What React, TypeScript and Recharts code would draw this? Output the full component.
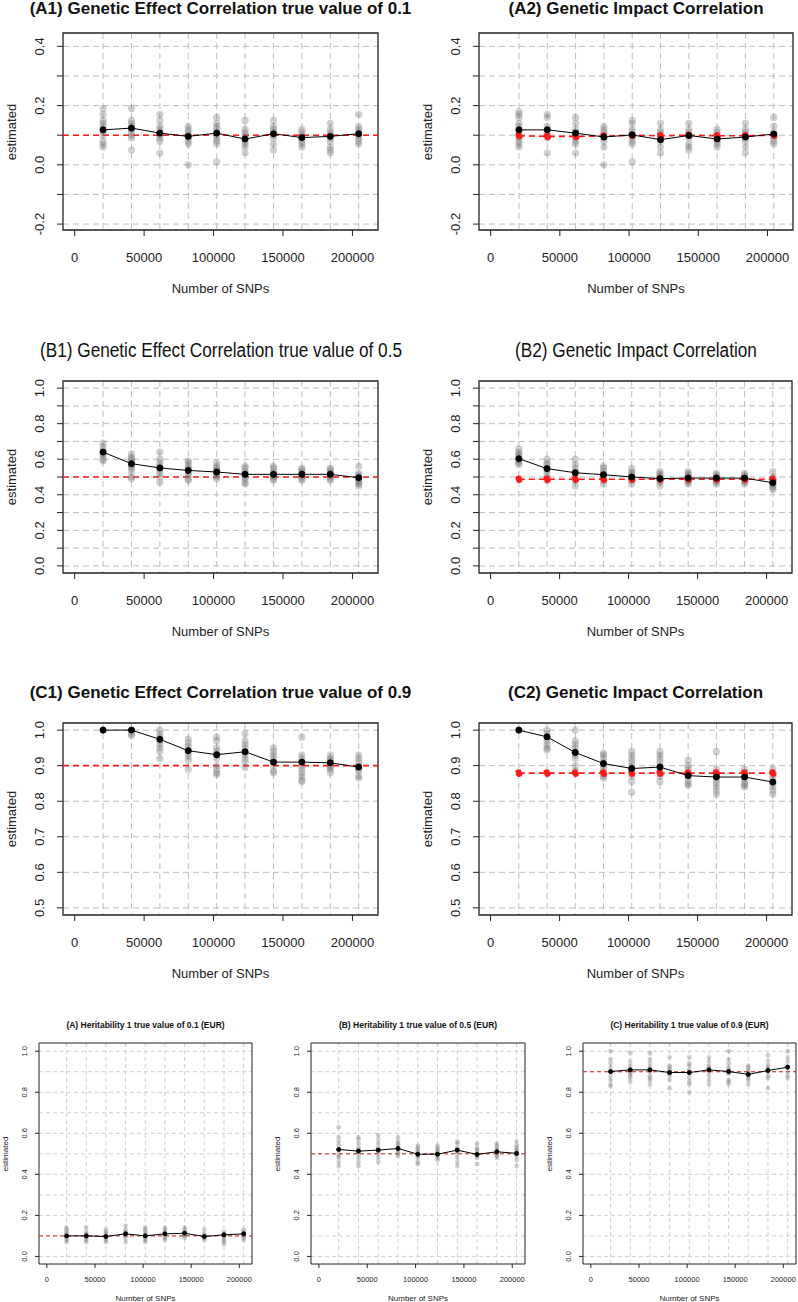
import React from 'react';
import { ComposedChart, Scatter, Line, XAxis, YAxis, CartesianGrid, ReferenceLine, ReferenceArea } from 'recharts';

// number of SNPs used in each simulation step
const snps = [20450, 40900, 61350, 81800, 102250, 122700, 143150, 163600, 184050, 204500];
const xTicks = [0, 50000, 100000, 150000, 200000];

// y ticks / labels / grid
const yTicksA = [-0.2, -0.1, 0, 0.1, 0.2, 0.3, 0.4];
const yLabelsA = [-0.2, 0, 0.2, 0.4];
const yTicksB = [0, 0.1, 0.2, 0.3, 0.4, 0.5, 0.6, 0.7, 0.8, 0.9, 1.0];
const yLabelsB = [0, 0.2, 0.4, 0.6, 0.8, 1.0];
const yTicksC = [0.5, 0.6, 0.7, 0.8, 0.9, 1.0];
const yTicksH = [0, 0.2, 0.4, 0.6, 0.8, 1.0];

// (A1) genetic effect correlation, true 0.1
const a1Reps = [
  [0.19, 0.17, 0.15, 0.14, 0.13, 0.12, 0.11, 0.1, 0.08, 0.07, 0.06],
  [0.19, 0.15, 0.14, 0.13, 0.12, 0.11, 0.1, 0.09, 0.05],
  [0.17, 0.15, 0.13, 0.12, 0.11, 0.1, 0.09, 0.08, 0.04],
  [0.13, 0.12, 0.11, 0.1, 0.09, 0.08, 0.07, 0.0],
  [0.16, 0.14, 0.13, 0.12, 0.11, 0.1, 0.09, 0.08, 0.07, 0.01],
  [0.15, 0.12, 0.11, 0.1, 0.09, 0.08, 0.07, 0.06, 0.04],
  [0.15, 0.13, 0.12, 0.11, 0.1, 0.09, 0.07, 0.05],
  [0.12, 0.11, 0.1, 0.09, 0.08, 0.07, 0.06],
  [0.14, 0.12, 0.11, 0.1, 0.09, 0.08, 0.06, 0.05, 0.04],
  [0.17, 0.13, 0.12, 0.11, 0.1, 0.09, 0.08, 0.07],
];
const a1Mean = [0.118, 0.124, 0.107, 0.096, 0.107, 0.087, 0.105, 0.092, 0.096, 0.105];

// (A2) genetic impact correlation
const a2Reps = [
  [0.18, 0.17, 0.16, 0.14, 0.13, 0.12, 0.11, 0.1, 0.09, 0.08, 0.07, 0.06],
  [0.17, 0.16, 0.13, 0.12, 0.11, 0.1, 0.09, 0.04],
  [0.16, 0.14, 0.12, 0.11, 0.1, 0.09, 0.08, 0.07, 0.04],
  [0.13, 0.12, 0.11, 0.1, 0.09, 0.08, 0.06, 0.0],
  [0.15, 0.14, 0.12, 0.11, 0.1, 0.09, 0.08, 0.07, 0.01],
  [0.14, 0.12, 0.11, 0.1, 0.09, 0.08, 0.06, 0.04],
  [0.14, 0.12, 0.11, 0.1, 0.09, 0.07, 0.06, 0.05],
  [0.12, 0.11, 0.1, 0.09, 0.08, 0.07, 0.06],
  [0.14, 0.12, 0.11, 0.1, 0.09, 0.08, 0.06, 0.04],
  [0.16, 0.13, 0.11, 0.1, 0.09, 0.08, 0.07],
];
const a2Mean = [0.118, 0.118, 0.107, 0.094, 0.101, 0.085, 0.099, 0.087, 0.094, 0.104];
const a2True = [0.098, 0.096, 0.096, 0.097, 0.1, 0.098, 0.1, 0.098, 0.098, 0.1];

// (B1) genetic effect correlation, true 0.5
const b1Reps = [
  [0.69, 0.67, 0.65, 0.63, 0.62, 0.6, 0.59],
  [0.63, 0.61, 0.6, 0.59, 0.57, 0.56, 0.55, 0.53, 0.5, 0.49],
  [0.64, 0.6, 0.58, 0.56, 0.55, 0.54, 0.52, 0.5, 0.47],
  [0.59, 0.58, 0.56, 0.55, 0.54, 0.52, 0.51, 0.49, 0.48],
  [0.58, 0.56, 0.55, 0.54, 0.53, 0.52, 0.51, 0.5, 0.49],
  [0.56, 0.55, 0.53, 0.52, 0.51, 0.5, 0.49, 0.47, 0.46],
  [0.56, 0.55, 0.53, 0.52, 0.51, 0.5, 0.49, 0.48],
  [0.55, 0.54, 0.53, 0.52, 0.51, 0.5, 0.49, 0.48],
  [0.55, 0.54, 0.53, 0.52, 0.51, 0.5, 0.49, 0.48],
  [0.56, 0.52, 0.51, 0.5, 0.49, 0.48, 0.47, 0.46, 0.45],
];
const b1Mean = [0.64, 0.575, 0.551, 0.537, 0.528, 0.515, 0.515, 0.515, 0.515, 0.496];

// (B2) genetic impact correlation
const b2Reps = [
  [0.66, 0.64, 0.63, 0.62, 0.6, 0.59, 0.58, 0.57],
  [0.6, 0.58, 0.57, 0.55, 0.54, 0.52, 0.5, 0.48],
  [0.6, 0.57, 0.55, 0.53, 0.52, 0.5, 0.48, 0.45],
  [0.56, 0.55, 0.53, 0.52, 0.51, 0.5, 0.48, 0.46],
  [0.55, 0.53, 0.52, 0.51, 0.5, 0.49, 0.48, 0.46],
  [0.53, 0.52, 0.51, 0.5, 0.49, 0.48, 0.47, 0.45],
  [0.53, 0.52, 0.51, 0.5, 0.49, 0.48, 0.47, 0.46],
  [0.52, 0.51, 0.5, 0.49, 0.48, 0.47, 0.46],
  [0.52, 0.51, 0.5, 0.49, 0.48, 0.47, 0.46],
  [0.53, 0.5, 0.49, 0.48, 0.47, 0.46, 0.45, 0.44, 0.43],
];
const b2Mean = [0.603, 0.547, 0.524, 0.513, 0.5, 0.491, 0.494, 0.494, 0.494, 0.468];
const b2True = [0.487, 0.487, 0.487, 0.487, 0.487, 0.487, 0.487, 0.487, 0.487, 0.487];

// (C1) genetic effect correlation, true 0.9
const c1Reps = [
  [1.0],
  [1.0, 0.99, 0.985],
  [1.0, 0.99, 0.98, 0.97, 0.96, 0.95, 0.94, 0.92],
  [0.975, 0.965, 0.955, 0.945, 0.935, 0.925, 0.915, 0.89],
  [0.98, 0.97, 0.95, 0.94, 0.93, 0.92, 0.9, 0.89, 0.88, 0.875],
  [0.99, 0.97, 0.96, 0.95, 0.94, 0.93, 0.92, 0.91, 0.895],
  [0.95, 0.94, 0.93, 0.92, 0.91, 0.9, 0.885, 0.88],
  [0.98, 0.93, 0.92, 0.91, 0.9, 0.89, 0.88, 0.87, 0.86, 0.855],
  [0.93, 0.92, 0.915, 0.91, 0.9, 0.895, 0.89, 0.88],
  [0.93, 0.92, 0.91, 0.9, 0.89, 0.885, 0.87, 0.865],
];
const c1Mean = [1.0, 1.0, 0.974, 0.942, 0.931, 0.939, 0.91, 0.91, 0.908, 0.896];

// (C2) genetic impact correlation
const c2Reps = [
  [1.0],
  [1.0, 0.99, 0.98, 0.97, 0.96, 0.95, 0.945],
  [1.0, 0.97, 0.96, 0.95, 0.94, 0.93, 0.92, 0.9, 0.885],
  [0.935, 0.93, 0.92, 0.91, 0.9, 0.89, 0.88, 0.87, 0.865],
  [0.94, 0.93, 0.92, 0.91, 0.9, 0.89, 0.88, 0.87, 0.855, 0.825],
  [0.94, 0.93, 0.92, 0.91, 0.9, 0.89, 0.88, 0.87, 0.855],
  [0.915, 0.9, 0.89, 0.88, 0.87, 0.86, 0.85, 0.845],
  [0.94, 0.89, 0.88, 0.87, 0.86, 0.85, 0.84, 0.83, 0.82],
  [0.89, 0.88, 0.87, 0.86, 0.85, 0.845, 0.84],
  [0.89, 0.88, 0.87, 0.86, 0.85, 0.84, 0.83, 0.82],
];
const c2Mean = [1.0, 0.981, 0.937, 0.906, 0.892, 0.896, 0.872, 0.868, 0.868, 0.854];
const c2True = [0.879, 0.879, 0.879, 0.879, 0.879, 0.879, 0.879, 0.879, 0.879, 0.879];

// heritability 1 (EUR), true 0.1 / 0.5 / 0.9
const h1Reps = [
  [0.14, 0.13, 0.12, 0.11, 0.1, 0.09, 0.08, 0.07],
  [0.14, 0.12, 0.11, 0.1, 0.09, 0.08, 0.07],
  [0.13, 0.12, 0.11, 0.1, 0.09, 0.08, 0.07],
  [0.15, 0.13, 0.12, 0.11, 0.1, 0.09, 0.07],
  [0.14, 0.13, 0.12, 0.11, 0.1, 0.09, 0.08, 0.07],
  [0.14, 0.13, 0.12, 0.11, 0.1, 0.09, 0.08],
  [0.14, 0.13, 0.12, 0.11, 0.1, 0.09],
  [0.13, 0.11, 0.1, 0.09, 0.08],
  [0.12, 0.11, 0.1, 0.09, 0.08, 0.07, 0.06],
  [0.13, 0.12, 0.11, 0.1, 0.09, 0.08],
];
const h1Mean = [0.1, 0.1, 0.097, 0.11, 0.1, 0.11, 0.113, 0.097, 0.105, 0.11];

const h5Reps = [
  [0.63, 0.58, 0.56, 0.54, 0.52, 0.5, 0.49, 0.48, 0.46, 0.44],
  [0.58, 0.57, 0.55, 0.53, 0.52, 0.51, 0.5, 0.48, 0.46, 0.44],
  [0.59, 0.57, 0.55, 0.53, 0.52, 0.51, 0.5, 0.48, 0.46],
  [0.58, 0.56, 0.55, 0.54, 0.53, 0.52, 0.51, 0.5, 0.49],
  [0.54, 0.53, 0.52, 0.51, 0.5, 0.49, 0.48, 0.46, 0.45],
  [0.54, 0.53, 0.52, 0.51, 0.5, 0.49, 0.48, 0.47],
  [0.56, 0.55, 0.53, 0.52, 0.51, 0.5, 0.48, 0.46, 0.44],
  [0.55, 0.53, 0.52, 0.51, 0.5, 0.49, 0.48, 0.45],
  [0.55, 0.54, 0.53, 0.52, 0.51, 0.5, 0.49, 0.48],
  [0.56, 0.54, 0.53, 0.52, 0.51, 0.5, 0.49, 0.47, 0.44],
];
const h5Mean = [0.521, 0.513, 0.518, 0.526, 0.498, 0.498, 0.518, 0.497, 0.51, 0.502];

const h9Reps = [
  [1.0, 0.96, 0.94, 0.92, 0.9, 0.88, 0.86, 0.84, 0.83],
  [0.99, 0.95, 0.93, 0.91, 0.9, 0.89, 0.88, 0.87, 0.85],
  [0.99, 0.96, 0.94, 0.92, 0.91, 0.9, 0.88, 0.87, 0.86, 0.84],
  [0.97, 0.93, 0.92, 0.91, 0.9, 0.89, 0.88, 0.86, 0.82],
  [0.97, 0.94, 0.93, 0.91, 0.9, 0.89, 0.87, 0.85, 0.84, 0.8],
  [0.97, 0.95, 0.93, 0.92, 0.91, 0.9, 0.88, 0.86, 0.84],
  [1.0, 0.96, 0.94, 0.92, 0.91, 0.9, 0.89, 0.86, 0.85, 0.84],
  [0.93, 0.92, 0.91, 0.9, 0.89, 0.88, 0.87, 0.86, 0.84],
  [0.98, 0.95, 0.93, 0.92, 0.91, 0.9, 0.88, 0.87, 0.82],
  [1.0, 0.97, 0.95, 0.93, 0.92, 0.9, 0.88, 0.87],
];
const h9Mean = [0.901, 0.909, 0.909, 0.896, 0.896, 0.909, 0.901, 0.887, 0.906, 0.922];

const FONT = '"Liberation Sans", Arial, sans-serif';

type Box = { l: number; t: number; r: number; b: number };

const XTick = (props: any) => {
  const { x, y, payload, dy, fs } = props;
  return (
    <text x={x} y={y + dy} textAnchor="middle" dominantBaseline="central" fontSize={fs} fill="#222" fontFamily={FONT}>
      {payload.value}
    </text>
  );
};

const YTick = (props: any) => {
  const { x, y, payload, dx, fs, labels } = props;
  const v = payload.value as number;
  if (!labels.some((l: number) => Math.abs(l - v) < 1e-6)) return null;
  const cx = x - dx;
  return (
    <text x={cx} y={y} transform={`rotate(-90, ${cx}, ${y})`} textAnchor="middle" dominantBaseline="central" fontSize={fs} fill="#222" fontFamily={FONT}>
      {v.toFixed(1)}
    </text>
  );
};

type PanelProps = {
  box: Box;
  small?: boolean;
  title: string;
  titleY: number;
  titleStyle: React.CSSProperties;
  xDomain: [number, number];
  yDomain: [number, number];
  yTicks: number[];
  yLabels: number[];
  yGrid: number[];
  reps: number[][];
  means: number[];
  truth?: number;
  red?: number[];
};

const Panel = (p: PanelProps) => {
  const { box, small } = p;
  const w = box.r - box.l;
  const h = box.b - box.t;
  const padL = 60, padT = 6, padR = 2, padB = 45;
  const pts = p.reps.flatMap((vals, i) => vals.map((v) => ({ x: snps[i], y: v })));
  const meanPts = p.means.map((v, i) => ({ x: snps[i], y: v }));
  const redPts = p.red ? p.red.map((v, i) => ({ x: snps[i], y: v })) : [];
  const fs = small ? 7.5 : 13;
  const tickSize = small ? 4 : 6;
  const dotR = small ? 2.4 : 3.6;
  const gridColor = small ? '#cfcfcf' : '#bdbdbd';
  const dash = small ? '4 3' : '6 4';
  const labFs = small ? 8 : 13;
  return (
    <>
      <div style={{ position: 'absolute', left: (box.l + box.r) / 2, top: p.titleY, transform: 'translate(-50%, -50%)', whiteSpace: 'nowrap', color: '#111', ...p.titleStyle }}>
        {p.title}
      </div>
      <div style={{ position: 'absolute', left: box.l - padL, top: box.t - padT }}>
        <ComposedChart width={w + padL + padR} height={h + padT + padB} margin={{ top: padT, right: padR, left: 0, bottom: 0 }}>
          <CartesianGrid horizontalValues={p.yGrid} verticalValues={snps} stroke={gridColor} strokeDasharray={dash} strokeWidth={1} />
          <XAxis
            type="number"
            dataKey="x"
            domain={p.xDomain}
            ticks={xTicks}
            interval={0}
            allowDataOverflow
            axisLine={false}
            tickSize={tickSize}
            tickMargin={0}
            tickLine={{ stroke: '#222' }}
            tick={<XTick dy={small ? 11 : 21} fs={fs} />}
            height={padB}
          />
          <YAxis
            type="number"
            dataKey="y"
            domain={p.yDomain}
            ticks={p.yTicks}
            interval={0}
            allowDataOverflow
            axisLine={false}
            tickSize={tickSize}
            tickMargin={0}
            tickLine={{ stroke: '#222' }}
            tick={<YTick dx={small ? 10 : 17.5} fs={fs} labels={p.yLabels} />}
            width={padL}
          />
          {p.truth !== undefined && (
            <ReferenceLine y={p.truth} stroke={small ? '#d42a2a' : '#ff1a1a'} strokeWidth={small ? 1 : 1.6} strokeDasharray={dash} />
          )}
          <Scatter
            data={pts}
            isAnimationActive={false}
            shape={(s: any) => <circle cx={s.cx} cy={s.cy} r={dotR} fill="#6e6e6e" fillOpacity={0.32} />}
          />
          {p.red && (
            <Line
              data={redPts}
              dataKey="y"
              stroke="#ff1a1a"
              strokeWidth={1.6}
              strokeDasharray={dash}
              dot={{ r: dotR - 0.6, fill: '#ff1a1a', stroke: '#ff1a1a' }}
              isAnimationActive={false}
            />
          )}
          <Line
            data={meanPts}
            dataKey="y"
            stroke="#000"
            strokeWidth={1}
            dot={{ r: small ? 2 : 3, fill: '#000', stroke: '#000', strokeWidth: 1 }}
            isAnimationActive={false}
          />
          <ReferenceArea
            x1={p.xDomain[0]}
            x2={p.xDomain[1]}
            y1={p.yDomain[0]}
            y2={p.yDomain[1]}
            fill="none"
            stroke="#222"
            strokeWidth={small ? 1 : 1.3}
            ifOverflow="visible"
          />
        </ComposedChart>
      </div>
      <div style={{ position: 'absolute', left: (box.l + box.r) / 2, top: box.b + (small ? 34 : 58), transform: 'translate(-50%, -50%)', whiteSpace: 'nowrap', fontFamily: FONT, fontSize: labFs, color: '#222' }}>
        Number of SNPs
      </div>
      <div style={{ position: 'absolute', left: box.l - (small ? 34 : 52), top: (box.t + box.b) / 2, transform: 'translate(-50%, -50%) rotate(-90deg)', whiteSpace: 'nowrap', fontFamily: FONT, fontSize: labFs, color: '#222' }}>
        estimated
      </div>
    </>
  );
};

const topX: [number, number] = [-8400, 218400];
const botX: [number, number] = [-8200, 213200];
const boldTitle: React.CSSProperties = { fontFamily: FONT, fontWeight: 'bold', fontSize: 17 };
// row B titles use a narrow face in the original; squeeze a regular one
const narrowTitle: React.CSSProperties = { fontFamily: FONT, fontSize: 20, transform: 'translate(-50%, -50%) scaleX(0.86)' };
const smallTitle: React.CSSProperties = { fontFamily: FONT, fontWeight: 'bold', fontSize: 8.5 };

export default function App() {
  return (
    <div style={{ position: 'absolute', left: 0, top: 0, width: 798, height: 1302, background: '#fff', overflow: 'hidden' }}>
      <Panel box={{ l: 63, t: 33, r: 378, b: 230 }} title="(A1) Genetic Effect Correlation true value of 0.1" titleY={9} titleStyle={boldTitle}
        xDomain={topX} yDomain={[-0.22, 0.445]} yTicks={yTicksA} yLabels={yLabelsA} yGrid={yTicksA} reps={a1Reps} means={a1Mean} truth={0.1} />
      <Panel box={{ l: 479, t: 33, r: 793, b: 230 }} title="(A2) Genetic Impact Correlation" titleY={9} titleStyle={boldTitle}
        xDomain={topX} yDomain={[-0.22, 0.445]} yTicks={yTicksA} yLabels={yLabelsA} yGrid={yTicksA} reps={a2Reps} means={a2Mean} red={a2True} />
      <Panel box={{ l: 63, t: 381, r: 378, b: 573 }} title="(B1) Genetic Effect Correlation true value of 0.5" titleY={350} titleStyle={narrowTitle}
        xDomain={topX} yDomain={[-0.04, 1.04]} yTicks={yTicksB} yLabels={yLabelsB} yGrid={yTicksB} reps={b1Reps} means={b1Mean} truth={0.5} />
      <Panel box={{ l: 479, t: 381, r: 792, b: 573 }} title="(B2) Genetic Impact Correlation" titleY={350} titleStyle={narrowTitle}
        xDomain={topX} yDomain={[-0.04, 1.04]} yTicks={yTicksB} yLabels={yLabelsB} yGrid={yTicksB} reps={b2Reps} means={b2Mean} red={b2True} />
      <Panel box={{ l: 63, t: 723, r: 378, b: 915 }} title="(C1) Genetic Effect Correlation true value of 0.9" titleY={693} titleStyle={boldTitle}
        xDomain={topX} yDomain={[0.48, 1.02]} yTicks={yTicksC} yLabels={yTicksC} yGrid={yTicksC} reps={c1Reps} means={c1Mean} truth={0.9} />
      <Panel box={{ l: 479, t: 723, r: 792, b: 915 }} title="(C2) Genetic Impact Correlation" titleY={693} titleStyle={boldTitle}
        xDomain={topX} yDomain={[0.48, 1.02]} yTicks={yTicksC} yLabels={yTicksC} yGrid={yTicksC} reps={c2Reps} means={c2Mean} red={c2True} />
      <Panel small box={{ l: 39, t: 1043, r: 252, b: 1264 }} title="(A) Heritability 1 true value of 0.1 (EUR)" titleY={1025} titleStyle={smallTitle}
        xDomain={botX} yDomain={[-0.037, 1.04]} yTicks={yTicksH} yLabels={yTicksH} yGrid={yTicksB} reps={h1Reps} means={h1Mean} truth={0.1} />
      <Panel small box={{ l: 311, t: 1043, r: 525, b: 1264 }} title="(B) Heritability 1 true value of 0.5 (EUR)" titleY={1025} titleStyle={smallTitle}
        xDomain={botX} yDomain={[-0.037, 1.04]} yTicks={yTicksH} yLabels={yTicksH} yGrid={yTicksB} reps={h5Reps} means={h5Mean} truth={0.5} />
      <Panel small box={{ l: 583, t: 1043, r: 796, b: 1264 }} title="(C) Heritability 1 true value of 0.9 (EUR)" titleY={1025} titleStyle={smallTitle}
        xDomain={botX} yDomain={[-0.037, 1.04]} yTicks={yTicksH} yLabels={yTicksH} yGrid={yTicksB} reps={h9Reps} means={h9Mean} truth={0.9} />
    </div>
  );
}
